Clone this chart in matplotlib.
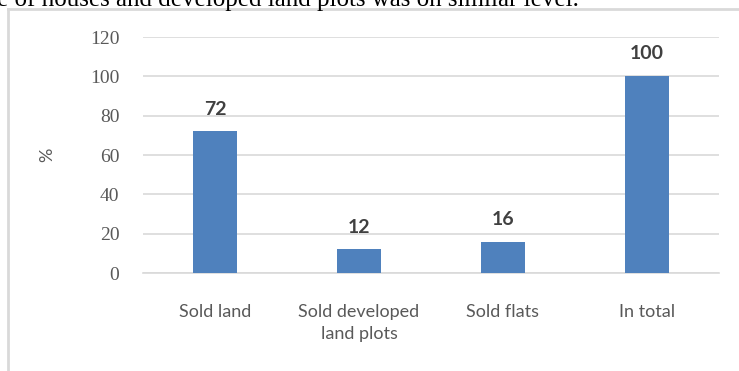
import matplotlib.pyplot as plt
from matplotlib.lines import Line2D

categories = ['Sold land', 'Sold developed\nland plots', 'Sold flats', 'In total']
shares = [72, 12, 16, 100]
yticks = [0, 20, 40, 60, 80, 100, 120]

bar_color = '#4F81BD'
grid_color = '#D9D9D9'
text_color = '#595959'

fig = plt.figure(figsize=(7.39, 3.71), dpi=100)
W, H = 739, 371

# tail of the preceding paragraph, cut off by the top edge
fig.text(-3 / W, 1 - 6 / H, 'e of houses and developed land plots was on similar level.',
         family='Liberation Serif', fontsize=18, color='black', va='baseline', ha='left')

# chart frame: top and left edges only
fig.add_artist(Line2D([8 / W, 1], [1 - 9 / H, 1 - 9 / H], color=grid_color, lw=2))
fig.add_artist(Line2D([8 / W, 8 / W], [0, 1 - 9 / H], color=grid_color, lw=2))

ax = fig.add_axes([143 / W, 1 - 273 / H, (719 - 143) / W, (273 - 37) / H])
x = range(len(categories))
bars = ax.bar(x, shares, width=0.31, color=bar_color, zorder=3)

ax.set_ylim(0, 120)
ax.set_xlim(-0.5, len(categories) - 0.5)
ax.set_yticks(yticks)
ax.set_yticklabels([str(v) for v in yticks], family='Liberation Serif', fontsize=14,
                   color=text_color)
ax.set_xticks(list(x))
ax.set_xticklabels(categories, family='Lato', fontsize=13, color=text_color,
                   linespacing=1.5)
ax.tick_params(axis='y', length=0, pad=17)
ax.tick_params(axis='x', length=0, pad=22)
for lbl in ax.get_xticklabels():
    lbl.set_verticalalignment('top')

ax.grid(axis='y', color=grid_color, lw=1.2, zorder=0)
for side in ['top', 'right', 'left']:
    ax.spines[side].set_visible(False)
ax.spines['bottom'].set_color(grid_color)
ax.spines['bottom'].set_linewidth(1.2)

for b, v in zip(bars, shares):
    ax.annotate(str(v), (b.get_x() + b.get_width() / 2, v), xytext=(0, 10),
                textcoords='offset points', ha='center', va='bottom',
                family='Lato', fontsize=14, fontweight='bold', color='#404040')

ax.set_ylabel('%', family='Lato', fontsize=13, color=text_color)
ax.yaxis.set_label_coords(-0.153, 0.5)

fig.savefig('out.png', dpi=100)
